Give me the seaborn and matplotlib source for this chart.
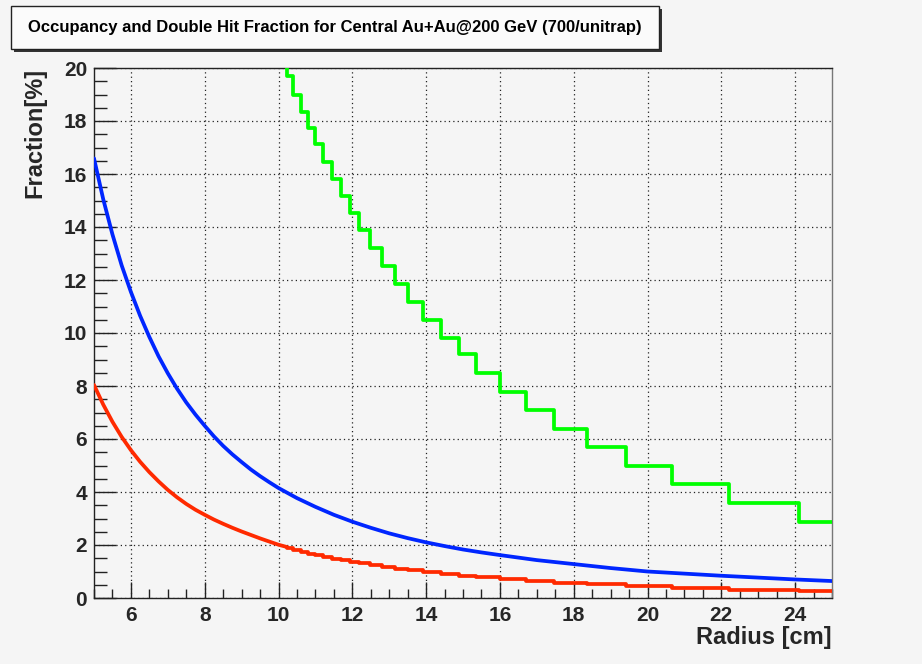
import matplotlib
matplotlib.use("Agg")
import matplotlib.pyplot as plt
import seaborn as sns
import pandas as pd
from matplotlib.patches import Rectangle
from matplotlib.ticker import MultipleLocator

# ---------------- data ----------------
title = "Occupancy and Double Hit Fraction for Central Au+Au@200 GeV (700/unitrap)"
xlabel = "Radius [cm]"
ylabel = "Fraction[%]"

# blue curve (smooth, fine binned)
blue_x = [5.0, 5.25, 5.5, 5.75, 6.0, 6.25, 6.5, 6.75, 7.0, 7.25, 7.5, 7.75, 8.0, 8.25,
          8.5, 8.75, 9.0, 9.25, 9.5, 9.75, 10.0, 10.5, 11.0, 11.5, 12.0, 12.5, 13.0,
          13.5, 14.0, 14.5, 15.0, 15.5, 16.0, 17.0, 18.0, 19.0, 20.0, 21.0, 22.0,
          23.0, 24.0, 25.0]
blue_y = [16.59, 15.05, 13.72, 12.55, 11.55, 10.65, 9.85, 9.12, 8.48, 7.9, 7.38, 6.92, 6.50,
          6.10, 5.74, 5.42, 5.13, 4.85, 4.60, 4.37, 4.15, 3.77, 3.44, 3.14, 2.88, 2.65,
          2.44, 2.26, 2.10, 1.96, 1.83, 1.72, 1.62, 1.43, 1.28, 1.13, 1.00, 0.92, 0.84,
          0.77, 0.70, 0.64]

# red curve: smooth part at small radius
red_x = [5.0, 5.25, 5.5, 5.75, 6.0, 6.25, 6.5, 6.75, 7.0, 7.25, 7.5, 7.75, 8.0, 8.25,
         8.5, 8.75, 9.0, 9.25, 9.5, 9.75, 10.0, 10.24]
red_y = [8.04, 7.3, 6.65, 6.08, 5.58, 5.14, 4.75, 4.40, 4.08, 3.80, 3.55, 3.33, 3.14,
         2.96, 2.80, 2.65, 2.51, 2.38, 2.25, 2.13, 2.01, 1.92]

# ring bin edges (step histograms at larger radius)
ring_edges = [10.24, 10.40, 10.60, 10.79, 10.99, 11.21, 11.44, 11.69, 11.94, 12.19, 12.48,
              12.81, 13.17, 13.52, 13.91, 14.40, 14.89, 15.35, 16.0, 16.70, 17.47, 18.35,
              19.42, 20.67, 22.21, 24.11, 25.0]
red_ring = [1.88, 1.80, 1.73, 1.67, 1.61, 1.55, 1.48, 1.42, 1.37, 1.31, 1.24, 1.17, 1.10,
            1.04, 0.97, 0.90, 0.84, 0.78, 0.71, 0.64, 0.57, 0.51, 0.44, 0.38, 0.31, 0.26]
green_ring = [19.68, 18.98, 18.35, 17.72, 17.12, 16.44, 15.80, 15.17, 14.52, 13.89, 13.22,
              12.53, 11.85, 11.18, 10.49, 9.82, 9.20, 8.48, 7.79, 7.09, 6.39, 5.69, 4.98,
              4.29, 3.57, 2.88]
green_pre_x = 10.10   # previous bin (value off the top of the chart)
green_pre_y = 20.4

# ---------------- style ----------------
sns.set_theme(style="white")
plt.rcParams["font.family"] = ["Liberation Sans", "DejaVu Sans"]
bg = "#f5f5f5"
C_BLUE = "#0026ff"
C_RED = "#ff2a00"
C_GREEN = "#00ff00"

fig = plt.figure(figsize=(9.22, 6.64), dpi=100, facecolor=bg)
W, H = 922, 664
ax = fig.add_axes([94 / W, (H - 598) / H, 738 / W, 530 / H])
ax.set_facecolor(bg)

df_blue = pd.DataFrame({"r": blue_x, "f": blue_y})
df_red = pd.DataFrame({"r": red_x, "f": red_y})
df_red_ring = pd.DataFrame({"r": ring_edges, "f": red_ring + [red_ring[-1]]})
df_green = pd.DataFrame({"r": [green_pre_x] + ring_edges,
                         "f": [green_pre_y] + green_ring + [green_ring[-1]]})

lw = 2.7
sns.lineplot(data=df_blue, x="r", y="f", ax=ax, color=C_BLUE, lw=lw, zorder=3)
sns.lineplot(data=df_red, x="r", y="f", ax=ax, color=C_RED, lw=lw, zorder=3)
sns.lineplot(data=df_red_ring, x="r", y="f", ax=ax, color=C_RED, lw=lw,
             drawstyle="steps-post", zorder=3)
sns.lineplot(data=df_green, x="r", y="f", ax=ax, color=C_GREEN, lw=lw,
             drawstyle="steps-post", zorder=3)

ax.set_xlim(5, 25)
ax.set_ylim(0, 20)
ax.xaxis.set_minor_locator(MultipleLocator(0.5))
ax.yaxis.set_minor_locator(MultipleLocator(0.5))

ax.grid(True, which="major", color="#222222", linestyle=(0, (1, 2.5)), linewidth=0.9)
ax.set_axisbelow(True)

ax.tick_params(axis="y", which="major", direction="in", length=16, width=1,
               color="#222222", pad=5, left=True, right=False)
ax.tick_params(axis="y", which="minor", direction="in", length=9, width=1,
               color="#222222", left=True, right=False)
ax.tick_params(axis="x", which="major", direction="in", length=11.5, width=1,
               color="#222222", pad=6, bottom=True, top=False)
ax.tick_params(axis="x", which="minor", direction="in", length=6.5, width=1,
               color="#222222", bottom=True, top=False)
xt = [6, 8, 10, 12, 14, 16, 18, 20, 22, 24]
yt = [0, 2, 4, 6, 8, 10, 12, 14, 16, 18, 20]
ax.set_xticks(xt)
ax.set_xticklabels([str(v) for v in xt], fontweight="bold", fontsize=15)
ax.set_yticks(yt)
ax.set_yticklabels([str(v) for v in yt], fontweight="bold", fontsize=15)

for s in ax.spines.values():
    s.set_color("#222222")
    s.set_linewidth(1.0)
ax.spines["right"].set_color("#777777")

ax.set_xlabel(xlabel, fontsize=17, fontweight="bold", loc="right")
ax.set_ylabel(ylabel, fontsize=17, fontweight="bold", loc="top")
ax.xaxis.set_label_coords(1.0, -0.052)
ax.yaxis.set_label_coords(-0.064, 1.0)

# title box with shadow (ROOT style)
bx0, by0, bx1, by1 = 11, 6, 659, 49
fig.patches.append(Rectangle(((bx0 + 3) / W, (H - by1 - 3) / H), (bx1 - bx0) / W,
                             (by1 - by0) / H, transform=fig.transFigure,
                             facecolor="#333333", edgecolor="none", zorder=1))
fig.patches.append(Rectangle((bx0 / W, (H - by1) / H), (bx1 - bx0) / W,
                             (by1 - by0) / H, transform=fig.transFigure,
                             facecolor="#fbfbfb", edgecolor="#222222", lw=1, zorder=2))
fig.text((bx0 + bx1) / 2 / W, 1 - (by0 + by1) / 2 / H, title, ha="center", va="center",
         fontsize=12, fontweight="bold", color="black", zorder=3)

fig.savefig("out.png", dpi=100, facecolor=bg)
